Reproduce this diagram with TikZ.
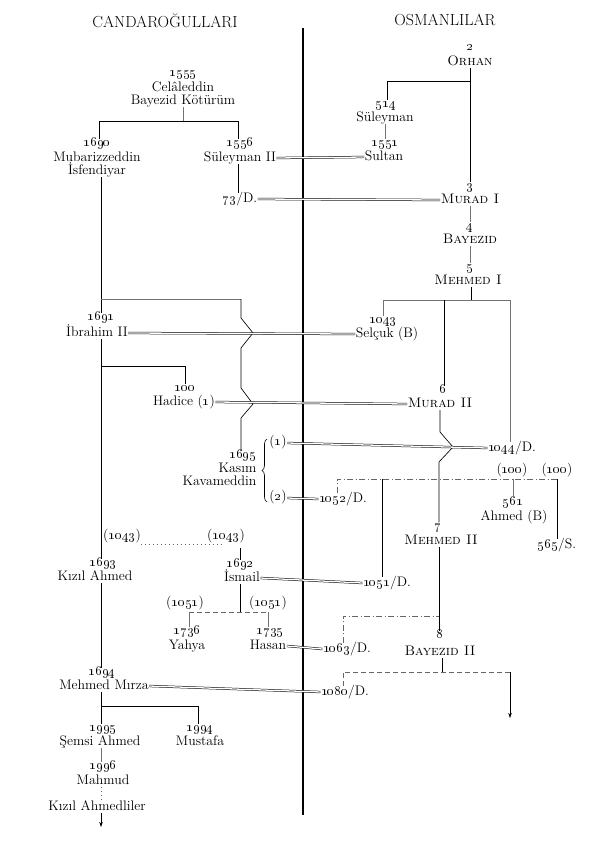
\RequirePackage{fix-cm}
\documentclass[tikz,border=0pt]{standalone}
\usetikzlibrary{arrows.meta,decorations.pathreplacing}
\newcommand\fs{\fontsize{13.8}{15}\selectfont}
\newcommand\osn[1]{\oldstylenums{#1}}
\tikzset{
 lbl/.style={font=\fs, inner sep=0.5pt, text height=8.5pt, text depth=2.5pt},
 nb/.style={font=\fs, inner sep=0.5pt, text height=6pt, text depth=1.5pt, yshift=1.2pt},
 pn/.style={font=\fs, inner sep=0.5pt, text height=7.5pt, text depth=2.5pt},
 hd/.style={font=\fontsize{16}{17}\selectfont, inner sep=0pt},
 ln/.style={line width=0.65pt},
 mainln/.style={line width=0.95pt},
 faint/.style={line width=0.5pt, black!55},
 dsh/.style={line width=0.55pt, black!60, dash pattern=on 5pt off 3pt},
 ddot/.style={line width=0.55pt, black!60, dash pattern=on 6pt off 2.5pt on 1pt off 2.5pt},
 dotl/.style={line width=0.6pt, black!60, dash pattern=on 1pt off 3pt},
 mar/.style={draw=black, line width=0.5pt, double=white, double distance=1.3pt},
 arr/.style={-{Stealth[length=5pt,width=3.5pt]}, line width=0.65pt}
}
\begin{document}
\begin{tikzpicture}[x=1pt,y=-1pt]
\useasboundingbox (0,0) rectangle (600,841);
\fill[white] (0,0) rectangle (600,841);

% headers
\node[hd] (hc) at (165,20) {CANDAROĞULLARI};
\node[hd] (ho) at (445,20) {OSMANLILAR};

% central line
\coordinate (ctop) at (303,28);
\coordinate (cbot) at (303,815);
\draw[line width=1.3pt] (ctop) -- (cbot);

% ---------- nodes left ----------
\node[nb]  (c55n) at (183,75) {\osn{1555}};
\node[lbl] (c55a) at (183,88) {Celâleddin};
\node[lbl] (c55b) at (183,101) {Bayezid Kötürüm};

\node[nb]  (a90n) at (97,145) {\osn{1690}};
\node[lbl] (a90a) at (97,158) {Mubarizzeddin};
\node[lbl] (a90b) at (97,171) {İsfendiyar};

\node[nb]  (s56n) at (240,145) {\osn{1556}};
\node[lbl] (s56)  at (240,158) {Süleyman II};
\node[lbl] (d73)  at (240,199) {\osn{73}/D.};

\node[nb]  (i91n) at (101,319) {\osn{1691}};
\node[lbl] (ibr)  at (97,333) {İbrahim II};

\node[nb]  (had0n) at (185,390) {\osn{100}};
\node[lbl] (had)   at (184,402) {Hadice (\osn{1})};

\node[nb,anchor=east]  (kas95n) at (257,457) {\osn{1695}};
\node[lbl,anchor=east] (kasa)   at (257,469) {Kasım};
\node[lbl,anchor=east] (kasb)   at (257,482) {Kavameddin};
\node[pn] (k1) at (278,443) {(\osn{1})};
\node[pn] (k2) at (278,498) {(\osn{2})};

\node[pn] (q43a) at (122,537) {(\osn{1043})};
\node[pn] (q43b) at (226,537) {(\osn{1043})};
\node[nb]  (k93n) at (103,565) {\osn{1693}};
\node[lbl] (kiz)  at (95,577) {Kızıl Ahmed};
\node[nb]  (i92n) at (240,566) {\osn{1692}};
\node[lbl] (ism)  at (242,578) {İsmail};

\node[pn] (q51a) at (185,604) {(\osn{1051})};
\node[pn] (q51b) at (268,604) {(\osn{1051})};
\node[nb]  (y36n) at (187,633) {\osn{1736}};
\node[lbl] (yah)  at (187,646) {Yahya};
\node[nb]  (h35n) at (270,633) {\osn{1735}};
\node[lbl] (has)  at (268,646) {Hasan};

\node[nb]  (m94n) at (102,674) {\osn{1694}};
\node[lbl] (mm)   at (104,686) {Mehmed Mırza};

\node[nb]  (s95n) at (103,730) {\osn{1995}};
\node[lbl] (sem)  at (100,742) {Şemsi Ahmed};
\node[nb]  (u94n) at (200,730) {\osn{1994}};
\node[lbl] (mus)  at (200,742) {Mustafa};
\node[nb]  (m96n) at (103,768) {\osn{1996}};
\node[lbl] (mah)  at (103,781) {Mahmud};
\node[lbl] (kal)  at (97,807) {Kızıl Ahmedliler};

% ---------- nodes right ----------
\node[nb]  (orhn) at (470,49) {\textbf{\osn{2}}};
\node[lbl] (orh)  at (470,62) {\textsc{Orhan}};
\node[nb]  (s14n) at (386,106) {\osn{514}};
\node[lbl] (s14)  at (385,118) {Süleyman};
\node[nb]  (s51n) at (385,145) {\osn{1551}};
\node[lbl] (sul)  at (384,157) {Sultan};
\node[nb]  (mu1n) at (470,188) {\osn{3}};
\node[lbl] (mu1)  at (470,200) {\textsc{Murad I}};
\node[nb]  (b4n)  at (470,228) {\osn{4}};
\node[lbl] (b4)   at (470,240) {\textsc{Bayezid}};
\node[nb]  (m5n)  at (470,269) {\osn{5}};
\node[lbl] (m5)   at (468,281) {\textsc{Mehmed I}};
\node[nb]  (sel43n) at (383,322) {\osn{1043}};
\node[lbl] (sel)  at (387,334) {Selçuk (B)};
\node[nb]  (mu2n) at (443,392) {\osn{6}};
\node[lbl] (mu2)  at (440,404) {\textsc{Murad II}};
\node[lbl] (d44)  at (512,448) {\osn{1044}/D.};
\node[lbl] (d52)  at (343,499) {\osn{1052}/D.};
\node[pn]  (p100a) at (512,471) {(\osn{100})};
\node[pn]  (p100b) at (557,471) {(\osn{100})};
\node[nb]  (a61n) at (513,504) {\osn{561}};
\node[lbl] (ahm)  at (514,517) {Ahmed (B)};
\node[lbl] (v65)  at (557,545) {\osn{565}/S.};
\node[nb]  (me2n) at (438,528) {\osn{7}};
\node[lbl] (me2)  at (441,541) {\textsc{Mehmed II}};
\node[lbl] (d51)  at (387,583) {\osn{1051}/D.};
\node[nb]  (b8n)  at (440,637) {\osn{8}};
\node[lbl] (b8)   at (440,652) {\textsc{Bayezid II}};
\node[lbl] (d63)  at (347,649) {\osn{1063}/D.};
\node[lbl] (d80)  at (345,692) {\osn{1080}/D.};

% ---------- connectors left ----------
\coordinate (Lx) at (101,0);
\coordinate (j1) at (183,121);
\coordinate (j1l) at (99,121);
\coordinate (j1r) at (238,121);
\draw[faint] (c55b.south) -- (j1);
\draw[ln] (j1l |- a90n.north) -- (j1l) -- (j1r) -- (j1r |- s56n.north);
\draw[ln] (s56.south -| j1r) -- (d73.north -| j1r);

\draw[mainln] (a90b.south -| Lx) -- (i91n.north -| Lx);
\draw[mainln] (ibr.south -| Lx) -- (k93n.north -| Lx);
\draw[mainln] (kiz.south -| Lx) -- (m94n.north -| Lx);
\draw[mainln] (mm.south -| Lx) -- (s95n.north -| Lx);

\coordinate (kj) at (241,299);
\draw[faint] (Lx |- kj) -- (kj);
\draw[ln] (kj) -- (241,318) -- (253,333) -- (241,348) -- (241,388) -- (253,404) -- (241,418) -- (kas95n.north -| kj);

\coordinate (hj) at (185,366);
\draw[ln] (Lx |- hj) -- (hj) -- (had0n.north -| hj);

\coordinate (brb) at (267,502);
\coordinate (brt) at (267,439);
\draw[ln, decorate, decoration={brace, amplitude=5pt}] (brb) -- (brt);

\coordinate (g1) at (141,544);
\coordinate (g2) at (222,544);
\draw[dotl] (g1) -- (g2);
\coordinate (g3) at (240,548);
\draw[ln] (g3) -- (g3 |- i92n.north);

\coordinate (h0) at (240,612);
\coordinate (h1) at (189,612);
\coordinate (h2) at (268,612);
\draw[ln] (ism.south -| h0) -- (h0);
\draw[dsh] (h1) -- (h2);
\draw[faint] (h1) -- (h1 |- y36n.north);
\draw[faint] (h2) -- (h2 |- h35n.north);

\coordinate (sj) at (101,706);
\coordinate (sj2) at (198,706);
\draw[ln] (sj) -- (sj2) -- (sj2 |- u94n.north);
\draw[faint] (sem.south -| Lx) -- (m96n.north -| Lx);
\draw[dotl] (mah.south -| Lx) -- (kal.north -| Lx);
\coordinate (lend) at (101,827);
\draw[arr] (kal.south -| Lx) -- (lend);

% ---------- connectors right ----------
\draw[mainln] (orh.south) -- (mu1n.north);
\coordinate (oj) at (470,81);
\coordinate (oj2) at (387,81);
\draw[ln] (oj) -- (oj2) -- (s14n.north -| oj2);
\draw[faint] (s14.south) -- (s51n.north);
\draw[faint] (mu1.south) -- (b4n.north);
\draw[faint] (b4.south) -- (m5n.north);

\coordinate (mj) at (471,300);
\coordinate (mjl) at (383,300);
\coordinate (mjm) at (444,300);
\coordinate (mjr) at (510,300);
\draw[ln] (m5.south -| mj) -- (mj);
\draw[faint] (mjl |- sel43n.north) -- (mjl) -- (mjr) -- (mjr |- d44.north);
\draw[ln] (mjm) -- (mjm |- mu2n.north);

\coordinate (mx) at (439,0);
\draw[ln] (mu2.south) -- (440,432) -- (453,447) -- (439,462) -- (me2n.north -| mx);

\coordinate (da) at (337,479);
\coordinate (db) at (382,479);
\coordinate (dc) at (513,479);
\coordinate (dd) at (557,479);
\draw[ddot] (da |- d52.north) -- (da) -- (dd);
\draw[ln] (db) -- (db |- d51.north);
\draw[faint] (dc) -- (dc |- a61n.north);
\draw[ln] (dd) -- (dd |- v65.north);

\draw[mainln] (me2.south -| mx) -- (b8n.north -| mx);

\coordinate (ea) at (343,616);
\coordinate (eb) at (439,616);
\draw[ddot] (ea |- d63.north) -- (ea) -- (eb);

\coordinate (fj) at (442,672);
\coordinate (fa) at (343,672);
\coordinate (fb) at (510,672);
\coordinate (fend) at (510,718);
\draw[ln] (b8.south -| fj) -- (fj);
\draw[dsh] (fa |- d80.north) -- (fa) -- (fb);
\draw[arr] (fb) -- (fend);

% ---------- marriages ----------
\draw[mar] (s56.east) -- (sul.west);
\draw[mar] (d73.east) -- (mu1.west);
\draw[mar] (ibr.east) -- (sel.west);
\draw[mar] (had.east) -- (mu2.west);
\draw[mar] (k1.east) -- (d44.west);
\draw[mar] (k2.east) -- (d52.west);
\draw[mar] (ism.east) -- (d51.west);
\draw[mar] (has.east) -- (d63.west);
\draw[mar] (mm.east) -- (d80.west);
\end{tikzpicture}
\end{document}
